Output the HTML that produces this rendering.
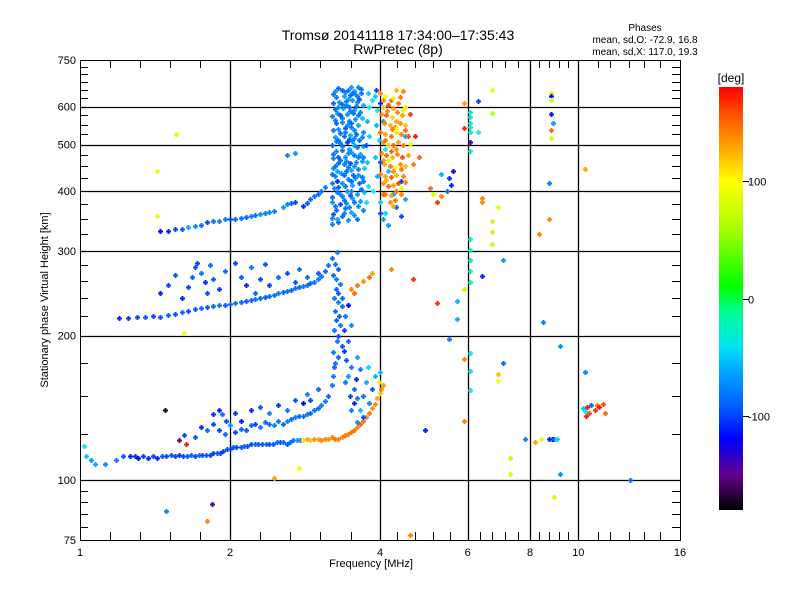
<!DOCTYPE html>
<html><head><meta charset="utf-8"><style>
html,body{margin:0;padding:0;background:#fff;}
svg{display:block;font-family:"Liberation Sans",sans-serif;}
</style></head><body>
<svg id="chart" width="800" height="600" viewBox="0 0 800 600">
<rect x="0" y="0" width="800" height="600" fill="#fff"/>
<text x="398" y="40" font-size="14" text-anchor="middle">Tromsø 20141118 17:34:00–17:35:43</text>
<text x="398" y="54" font-size="14" text-anchor="middle">RwPretec (8p)</text>
<text x="645" y="31" font-size="10" text-anchor="middle">Phases</text>
<text x="645" y="43" font-size="10" text-anchor="middle">mean, sd,O: -72.9, 16.8</text>
<text x="645" y="55" font-size="10" text-anchor="middle">mean, sd,X: 117.0, 19.3</text>
<g id="grid"></g>
<g id="marks"></g>
<rect x="80.5" y="60.5" width="600" height="480" fill="none" stroke="#000" stroke-width="1"/>
<g id="axes"></g>
<text x="371" y="567" font-size="11" text-anchor="middle">Frequency [MHz]</text>
<text transform="translate(48,300) rotate(-90)" font-size="11" text-anchor="middle">Stationary phase Virtual Height [km]</text>
<defs><linearGradient id="cbg" x1="0" y1="1" x2="0" y2="0"></linearGradient></defs>
<rect x="719" y="87" width="24" height="423" fill="url(#cbg)"/>
<text x="731" y="82" font-size="12" text-anchor="middle">[deg]</text>
<g id="cbticks"></g>
</svg>
<script>
// ---- data ----
const xTickValues = [1, 2, 4, 6, 8, 10, 16];
const xGridValues = [2, 4, 6, 8, 10];
const yTickValues = [75, 100, 200, 300, 400, 500, 600, 750];
const yGridValues = [100, 200, 300, 400, 500, 600];
const yMinorValues = [80,85,90,95,125,150,175,220,240,260,280,325,350,375,425,450,475,525,550,575,625,650,675,700,725];
const xMinorPixels = [110,140,170,200,260,290,320,351,397,415,433,450,480,492,505,518,539,549,559,568,598,610,629,644,660];
const colorbarTicks = [100, 0, -100];

const lowTrace = [[1.05,110,-70],[1.07,108,-60],[1.03,112,-50],[1.02,118,-40],[1.12,108,-75],[1.18,110,-80],[1.22,112,-95],[1.26,112,-110],[1.29,112,-105],[1.31,111,-120],[1.34,112,-100],[1.37,111,-110],[1.4,112,-100],[1.43,111,-110],[1.46,112,-95],[1.49,112,-100],[1.52,113,-95],[1.55,112,-100],[1.58,113,-105],[1.61,112,-100],[1.64,112,-95],[1.67,113,-90],[1.7,112,-100],[1.73,113,-85],[1.76,113,-100],[1.79,113,-95],[1.82,113,-100],[1.85,114,-100],[1.88,114,-95],[1.91,114,-100],[1.94,115,-100],[1.97,116,-100],[2.0,116,-100],[2.03,117,-95],[2.06,117,-100],[2.1,117,-95],[2.13,118,-90],[2.16,118,-95],[2.2,119,-100],[2.24,119,-90],[2.28,119,-95],[2.32,119,-95],[2.36,119,-90],[2.4,119,-100],[2.44,119,-95],[2.48,120,-90],[2.52,120,-95],[2.56,120,-90],[2.6,119,-95],[2.64,120,-85],[2.68,121,-80],[2.72,121,-70],[2.76,121,-75]];
const orangeTrace = [[2.8,121,110],[2.85,122,130],[2.9,121,120],[2.95,122,135],[3.0,122,130],[3.05,121,140],[3.1,122,140],[3.15,122,135],[3.2,123,140],[3.25,122,145],[3.3,122,140],[3.35,123,140],[3.4,124,145],[3.45,125,140],[3.5,126,145],[3.55,127,145],[3.6,129,140],[3.65,131,150],[3.7,133,145],[3.75,135,140],[3.8,138,145],[3.85,141,135],[3.9,144,140],[3.95,148,130],[4.0,152,120],[4.02,155,135],[4.05,158,130],[3.98,160,105],[3.5,250,140],[3.6,255,145],[3.7,260,135],[3.8,265,150],[3.85,270,130],[3.55,245,150]];
const upperBranch = [[1.9,127,-100],[1.95,125,-90],[2.0,130,-70],[2.05,126,-100],[2.1,128,-90],[2.15,127,-95],[2.2,130,-90],[2.25,131,-100],[2.3,129,-80],[2.35,132,-90],[2.4,131,-85],[2.45,130,-80],[2.5,133,-85],[2.55,131,-90],[2.6,133,-75],[2.65,134,-85],[2.7,135,-80],[2.75,136,-90],[2.8,136,-85],[2.85,137,-80],[2.9,138,-90],[2.95,140,-85],[3.0,141,-90],[3.05,143,-80],[3.1,146,-85],[3.15,150,-90],[3.2,158,-85],[3.22,165,-80],[3.24,172,-90],[1.62,124,-100],[1.7,123,-95],[1.75,129,-110],[1.8,127,-90],[1.85,131,-100],[1.85,137,-105],[1.9,140,-110],[1.93,137,-90],[1.96,133,-100],[2.05,138,-105],[2.1,133,-115],[2.2,140,-110],[2.3,142,-95],[2.4,138,-75],[2.5,143,-105],[2.6,140,-85],[2.7,147,-95],[2.8,145,-120],[2.85,151,-80],[2.9,147,-100],[3.0,155,-90],[1.48,140,-170],[1.63,119,175],[1.58,121,-150]];
const verticalColumn = [[3.25,175,-85],[3.3,180,-90],[3.22,185,-80],[3.35,190,-95],[3.28,195,-85],[3.3,200,-100],[3.24,205,-85],[3.33,210,-80],[3.27,215,-90],[3.31,220,-95],[3.25,225,-85],[3.35,230,-90],[3.29,235,-80],[3.24,240,-85],[3.3,245,-95],[3.26,250,-90],[3.32,256,-85],[3.27,262,-80],[3.22,268,-90],[3.3,275,-95],[3.25,282,-85],[3.2,290,-90],[3.28,298,-80],[3.4,160,-85],[3.45,165,-70],[3.5,172,-80],[3.42,178,-95],[3.38,186,-105],[3.48,150,-100],[3.55,155,-90],[3.6,148,-85],[3.5,140,-80],[3.58,162,-110],[3.65,170,-80],[3.6,180,-60],[3.45,195,-90],[3.38,205,-100],[3.5,210,-75],[3.4,220,-85],[3.45,232,-120],[3.35,240,-90],[3.55,145,-110],[3.7,150,-85],[3.75,160,-60],[3.65,140,-55],[3.8,145,-80],[3.7,135,-100],[3.6,132,-75],[3.85,155,-95],[3.9,165,-60],[4.0,168,-55],[3.78,172,-45]];
const fTrace = [[1.2,218,-110],[1.25,218,-105],[1.3,219,-100],[1.35,219,-95],[1.4,220,-100],[1.45,219,-95],[1.5,221,-90],[1.55,222,-95],[1.6,224,-90],[1.65,225,-100],[1.7,227,-95],[1.75,228,-90],[1.8,229,-95],[1.85,230,-90],[1.9,231,-85],[1.95,232,-95],[2.0,233,-90],[2.05,234,-85],[2.1,235,-90],[2.15,236,-95],[2.2,237,-90],[2.25,238,-85],[2.3,239,-90],[2.35,241,-95],[2.4,242,-90],[2.45,243,-85],[2.5,245,-80],[2.55,246,-90],[2.6,248,-85],[2.65,249,-90],[2.7,251,-85],[2.75,252,-90],[2.8,254,-80],[2.85,255,-85],[2.9,257,-90],[2.95,259,-85],[3.0,262,-80],[3.05,266,-85],[3.1,272,-90],[3.15,280,-85],[1.6,240,-110],[1.65,252,-100],[1.68,265,-90],[1.7,278,-95],[1.72,283,-100],[1.75,270,-85],[1.78,258,-110],[1.8,245,-100],[1.82,280,-90],[1.85,262,-95],[1.9,250,-105],[1.95,272,-90],[2.05,283,-100],[2.1,265,-95],[2.15,255,-110],[2.2,278,-85],[2.25,245,-90],[2.3,262,-100],[2.35,282,-95],[2.4,255,-105],[2.5,265,-90],[2.6,270,-100],[2.7,258,-95],[2.75,275,-85],[2.85,265,-90],[3.0,270,-95],[1.5,255,-100],[1.55,268,-95],[1.45,245,-110]];
const topTrace = [[1.45,330,-120],[1.5,331,-110],[1.55,333,-100],[1.6,334,-95],[1.65,336,-60],[1.7,338,-75],[1.75,340,-90],[1.8,345,-100],[1.85,346,-85],[1.9,347,-80],[1.95,349,-85],[2.0,350,-100],[2.05,350,-90],[2.1,352,-85],[2.15,353,-90],[2.2,355,-80],[2.25,356,-85],[2.3,358,-75],[2.35,360,-80],[2.4,362,-75],[2.45,363,-80],[2.55,370,-70],[2.6,375,-75],[2.65,378,-90],[2.7,380,-100],[2.8,372,-110],[2.85,378,-95],[2.9,385,-90],[2.95,390,-85],[3.0,395,-90],[3.05,400,-85],[3.1,408,-80],[2.7,480,-70],[2.6,475,-75]];
const blueColumn = [[3.2,342,-80],[3.3,345,-90],[3.45,348,-70],[3.6,350,-85],[3.22,358,-95],[3.38,360,-75],[3.5,362,-60],[3.7,365,-80],[3.25,372,-85],[3.32,375,-100],[3.42,378,-70],[3.55,380,-85],[3.65,382,-65],[3.2,388,-90],[3.36,390,-80],[3.48,392,-95],[3.6,395,-70],[3.72,398,-55],[3.23,405,-75],[3.3,408,-95],[3.4,410,-85],[3.52,412,-65],[3.63,415,-90],[3.28,420,-110],[3.45,423,-80],[3.57,425,-70],[3.68,428,-85],[3.2,435,-85],[3.34,437,-70],[3.42,440,-90],[3.5,442,-60],[3.62,445,-80],[3.72,447,-50],[3.25,452,-90],[3.38,455,-80],[3.48,458,-100],[3.58,460,-75],[3.68,462,-65],[3.22,468,-80],[3.3,470,-95],[3.4,472,-70],[3.55,475,-85],[3.65,478,-60],[3.27,485,-75],[3.36,488,-90],[3.46,490,-65],[3.6,493,-80],[3.7,496,-70],[3.2,500,-90],[3.33,503,-80],[3.43,506,-105],[3.52,509,-70],[3.63,512,-85],[3.25,518,-70],[3.38,521,-85],[3.48,524,-60],[3.58,527,-90],[3.7,530,-75],[3.22,536,-85],[3.3,539,-70],[3.41,542,-95],[3.5,545,-80],[3.62,548,-65],[3.26,555,-90],[3.36,558,-75],[3.46,561,-85],[3.56,564,-70],[3.68,567,-55],[3.2,573,-80],[3.32,576,-95],[3.43,579,-70],[3.53,582,-85],[3.65,585,-75],[3.25,592,-85],[3.37,595,-65],[3.47,598,-90],[3.58,601,-80],[3.7,604,-60],[3.22,610,-90],[3.31,613,-75],[3.42,616,-85],[3.52,619,-70],[3.63,622,-95],[3.27,628,-80],[3.38,631,-65],[3.48,634,-90],[3.57,637,-75],[3.66,640,-85],[3.25,646,-70],[3.35,648,-90],[3.45,650,-80],[3.55,645,-65],[3.28,350,-60],[3.4,368,-90],[3.33,395,-70],[3.5,400,-80],[3.25,430,-75],[3.53,432,-90],[3.32,465,-85],[3.45,480,-75],[3.3,510,-85],[3.55,515,-75],[3.4,530,-80],[3.35,568,-85],[3.55,590,-70],[3.42,605,-80],[3.6,630,-80],[3.3,600,-70],[3.5,555,-90],[3.62,470,-80],[3.28,440,-65],[3.7,420,-90],[3.75,380,-45],[3.78,410,-40],[3.77,460,-50],[3.8,520,-45],[3.76,560,-55],[3.8,600,-40],[3.78,640,-50],[3.85,620,-30],[3.75,500,-100]];
const blueFill = [[3.21,352,-75],[3.35,355,-85],[3.55,356,-70],[3.27,365,-90],[3.46,370,-80],[3.62,372,-75],[3.21,380,-70],[3.39,384,-85],[3.52,386,-65],[3.28,398,-80],[3.43,400,-75],[3.66,404,-85],[3.21,415,-80],[3.36,416,-70],[3.5,420,-90],[3.62,432,-70],[3.39,432,-85],[3.22,446,-75],[3.45,448,-80],[3.55,452,-70],[3.3,458,-85],[3.42,463,-75],[3.7,470,-80],[3.22,478,-85],[3.5,482,-70],[3.36,496,-80],[3.55,498,-65],[3.26,508,-80],[3.47,514,-90],[3.68,518,-75],[3.33,528,-85],[3.55,535,-75],[3.44,550,-70],[3.25,563,-80],[3.62,575,-85],[3.28,583,-70],[3.48,588,-80],[3.35,607,-85],[3.6,612,-75],[3.45,623,-70],[3.22,636,-80],[3.52,640,-85],[3.4,642,-75],[3.66,652,-80],[3.3,655,-90],[3.62,660,-75],[3.5,660,-65]];
const orangeCluster = [[4.0,640,140],[4.1,630,100],[4.2,620,150],[4.3,650,125],[4.45,645,140],[4.05,600,120],[4.15,605,160],[4.25,595,130],[4.35,610,145],[4.5,600,110],[4.02,580,135],[4.12,575,150],[4.22,570,115],[4.32,585,140],[4.42,575,130],[4.6,578,165],[4.08,555,140],[4.18,550,125],[4.28,545,150],[4.38,555,135],[4.5,548,120],[4.0,530,150],[4.1,525,130],[4.2,520,145],[4.3,530,110],[4.4,525,140],[4.55,520,160],[4.7,522,175],[4.05,505,135],[4.15,500,120],[4.25,498,150],[4.35,505,130],[4.45,500,145],[4.6,502,90],[4.02,480,140],[4.12,475,150],[4.22,470,125],[4.32,478,140],[4.42,472,160],[4.55,475,130],[4.8,470,150],[4.08,455,130],[4.18,450,145],[4.28,448,100],[4.38,455,135],[4.5,450,120],[4.65,455,145],[4.0,435,145],[4.1,430,130],[4.2,428,150],[4.3,432,125],[4.45,430,140],[4.05,415,135],[4.15,410,150],[4.25,412,130],[4.35,415,160],[4.5,418,140],[4.1,395,140],[4.2,392,130],[4.3,400,150],[4.18,380,135],[4.28,383,145],[4.4,405,90],[4.15,465,85],[4.3,540,95],[4.45,590,85],[4.25,625,90],[4.06,620,135],[4.38,628,145],[4.14,588,140],[4.3,560,130],[4.22,538,140],[4.48,535,150],[4.1,510,145],[4.3,490,135],[4.2,485,150],[4.05,465,130],[4.4,445,145],[4.25,440,140],[4.12,422,125],[4.4,395,140],[4.25,372,130],[4.05,395,150]];
const cyanMix = [[3.9,630,-50],[3.95,590,-40],[3.92,550,-55],[3.98,510,-45],[3.9,470,-50],[3.95,430,-60],[3.88,400,-40],[4.0,380,-50],[4.05,560,-70],[4.1,490,-40],[4.15,440,-55],[4.0,460,-100],[4.1,360,-45],[4.0,610,-110],[3.93,650,-100],[4.4,420,-100],[4.5,520,-60],[4.0,360,-100],[4.05,350,-60],[4.15,340,-70],[4.3,370,-90],[4.4,355,-100],[4.5,385,-60],[4.25,395,-70]];
const scattered = [[6.7,650,85],[5.9,609,130],[6.3,615,-100],[6.7,582,60],[6.05,585,-30],[6.05,570,-30],[6.05,555,-30],[6.05,545,-30],[6.05,532,-30],[5.9,540,170],[6.3,530,-20],[6.05,505,-130],[6.05,485,-30],[8.8,640,75],[8.8,630,-120],[8.8,618,75],[8.8,578,-115],[8.9,555,-70],[8.8,535,150],[8.8,515,80],[10.3,444,130],[8.75,416,-80],[6.4,386,140],[6.4,380,140],[6.9,371,90],[6.7,346,70],[6.7,328,70],[6.7,310,70],[8.75,349,140],[8.35,325,140],[6.05,318,-30],[6.05,302,-30],[6.05,287,-30],[7.05,287,-70],[6.05,273,-20],[6.05,259,-20],[6.4,266,-110],[5.9,250,70],[5.7,236,-60],[5.7,216,-60],[5.2,234,170],[8.5,213,-80],[5.5,197,-80],[6.05,184,-30],[5.9,179,140],[7.05,175,-90],[9.2,190,-70],[6.05,169,-30],[6.9,166,120],[6.9,161,100],[6.05,154,-30],[10.3,168,-80],[10.2,141,-50],[10.3,139,-40],[10.4,142,175],[10.5,138,160],[10.6,143,-90],[10.8,140,170],[10.9,143,150],[11.0,142,175],[11.2,144,160],[11.3,138,150],[10.35,136,175],[5.9,133,140],[4.93,127,-115],[7.8,122,-80],[8.2,120,130],[8.4,122,90],[8.75,122,-110],[8.85,122,-115],[8.95,122,-80],[9.05,122,-50],[7.3,111,70],[7.3,103,80],[9.2,103,-70],[12.7,100,-90],[8.95,92,80],[1.56,525,80],[1.43,440,90],[1.43,355,90],[1.62,202,90],[1.49,86,-80],[1.84,89,-140],[1.8,82,140],[2.45,101,130],[2.75,106,90],[4.6,77,140],[5.5,425,-110],[5.6,440,-120],[5.3,435,-60],[5.55,412,-110],[5.45,400,-90],[5.2,380,170],[5.3,390,140],[5.05,405,150],[5.1,395,80],[4.65,262,170],[4.2,275,140]];

// ---- scales ----
const X0 = 80, X1 = 680, Y0 = 60, Y1 = 540;
function xScale(f){ return X0 + 150*Math.log2(f); }
function yScale(h){ return Y1 - 480*Math.log10(h/75); }
const cbTop = 87, cbBot = 510;
function cbScale(p){ return cbBot - (p+180)/360*(cbBot-cbTop); }
const cmapStops = [[-180,0,0,0],[-150,100,0,140],[-120,0,0,255],[-90,0,100,255],[-60,0,170,255],[-40,0,230,240],[-10,0,255,140],[10,0,255,0],[60,170,255,0],[100,255,255,0],[130,255,160,0],[160,255,70,0],[180,255,0,0]];
function cmap(p){
  for(let i=1;i<cmapStops.length;i++){
    const a=cmapStops[i-1], b=cmapStops[i];
    if(p<=b[0]){ const t=(p-a[0])/(b[0]-a[0]);
      return 'rgb('+Math.round(a[1]+t*(b[1]-a[1]))+','+Math.round(a[2]+t*(b[2]-a[2]))+','+Math.round(a[3]+t*(b[3]-a[3]))+')'; }
  }
  return 'rgb(255,0,0)';
}
const NS='http://www.w3.org/2000/svg';
function mk(tag, attrs, parent){ const e=document.createElementNS(NS,tag); for(const k in attrs) e.setAttribute(k,attrs[k]); parent.appendChild(e); return e; }

const grid=document.getElementById('grid'), axes=document.getElementById('axes'), marks=document.getElementById('marks');
xGridValues.forEach(v=>{
  const x=Math.round(xScale(v))+0.5;
  const l=mk('line',{x1:x,y1:Y0,x2:x,y2:Y1,stroke:'#000','stroke-width':1.3},grid);
  
  
});
yGridValues.forEach(v=>{
  const y=Math.round(yScale(v))+0.5;
  const l=mk('line',{x1:X0,y1:y,x2:X1,y2:y,stroke:'#000','stroke-width':1.3},grid);
  
  
});
yMinorValues.forEach(v=>{
  const y=Math.round(yScale(v))+0.5;
  const a=mk('line',{x1:X0,y1:y,x2:X0+8,y2:y,stroke:'#000','stroke-width':1},axes);
  
  
  const b=mk('line',{x1:X1-8,y1:y,x2:X1,y2:y,stroke:'#000','stroke-width':1},axes);
  
  
});
xMinorPixels.forEach(px=>{
  const x=px+0.5;
  const a=mk('line',{x1:x,y1:Y1,x2:x,y2:Y1-8,stroke:'#000','stroke-width':1},axes);
  
  
  const b=mk('line',{x1:x,y1:Y0,x2:x,y2:Y0+8,stroke:'#000','stroke-width':1},axes);
  
  
});
xTickValues.forEach(v=>{
  const t=mk('text',{x:xScale(v),y:Y1+16,'font-size':11,'text-anchor':'middle'},axes);
  t.textContent=String(v);
  
  
});
yTickValues.forEach(v=>{
  const t=mk('text',{x:X0-4,y:yScale(v)+4,'font-size':11,'text-anchor':'end'},axes);
  t.textContent=String(v);
  
  
});

const groups=[lowTrace,orangeTrace,upperBranch,verticalColumn,fTrace,topTrace,blueColumn,blueFill,cyanMix,orangeCluster,scattered];
groups.forEach(g=>g.forEach(d=>{
  const x=Math.round(xScale(d[0])), y=Math.round(yScale(d[1]));
  const p=mk('path',{d:'M'+(x-2)+' '+(y+0.5)+'h5M'+(x+0.5)+' '+(y-2)+'v5',stroke:cmap(d[2]),'stroke-width':1.6,fill:'none','shape-rendering':'crispEdges'},marks);
  
  
}));

const grad=document.getElementById('cbg');
for(let p=-180;p<=180;p+=10){
  mk('stop',{offset:((p+180)/360).toFixed(4),'stop-color':cmap(p)},grad);
}
const cbt=document.getElementById('cbticks');
colorbarTicks.forEach(v=>{
  const y=Math.round(cbScale(v))+0.5;
  const l=mk('line',{x1:743,y1:y,x2:749,y2:y,stroke:'#000','stroke-width':1},cbt);
  
  
  const t=mk('text',{x:748,y:y+4,'font-size':11},cbt);
  t.textContent=String(v);
  
  
});
</script>
</body></html>
